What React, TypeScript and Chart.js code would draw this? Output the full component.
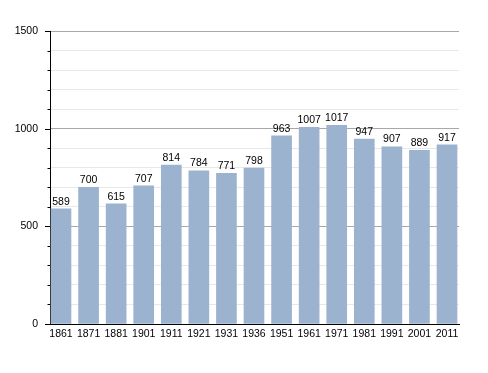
import React, { useEffect, useRef } from "react";
import { Chart, registerables } from "chart.js";

Chart.register(...registerables);

const years = ["1861", "1871", "1881", "1901", "1911", "1921", "1931", "1936", "1951", "1961", "1971", "1981", "1991", "2001", "2011"];
const population = [589, 700, 615, 707, 814, 784, 771, 798, 963, 1007, 1017, 947, 907, 889, 917];
const yMin = 0;
const yMax = 1500;
const yStep = 100;
const yLabelStep = 500;

const FONT = "'Liberation Sans', Arial, sans-serif";

const valueLabels = {
  id: "valueLabels",
  afterDatasetsDraw(chart: any) {
    const ctx = chart.ctx;
    const meta = chart.getDatasetMeta(0);
    ctx.save();
    ctx.font = `10.5px ${FONT}`;
    ctx.fillStyle = "#000";
    ctx.textAlign = "center";
    ctx.textBaseline = "bottom";
    meta.data.forEach((bar: any, i: number) => {
      ctx.fillText(String(population[i]), bar.x, bar.y - 2);
    });
    ctx.restore();
  },
};

const axisTicks = {
  id: "axisTicks",
  afterDraw(chart: any) {
    const ctx = chart.ctx;
    const y = chart.scales.y;
    const left = chart.chartArea.left;
    ctx.save();
    ctx.strokeStyle = "#000";
    ctx.lineWidth = 1;
    for (let v = yMin; v <= yMax; v += yStep) {
      const py = Math.round(y.getPixelForValue(v)) + 0.5;
      const len = v % yLabelStep === 0 ? 5 : 2.5;
      ctx.beginPath();
      ctx.moveTo(left - len, py);
      ctx.lineTo(left, py);
      ctx.stroke();
    }
    ctx.restore();
  },
};

export default function App() {
  const ref = useRef<HTMLCanvasElement | null>(null);
  useEffect(() => {
    if (!ref.current) return;
    const xs = population.map((_, i) => i);
    const chart = new Chart(ref.current, {
      type: "bar",
      data: {
        datasets: [
          {
            data: population.map((v, i) => ({ x: xs[i], y: v })),
            backgroundColor: "#9bb3ce",
            borderWidth: 0,
            barThickness: 20,
          },
        ],
      },
      options: {
        animation: false,
        responsive: false,
        devicePixelRatio: 1,
        layout: { padding: { left: 0, right: 29, top: 31, bottom: 0 } },
        plugins: { legend: { display: false }, tooltip: { enabled: false } },
        scales: {
          x: {
            type: "linear",
            min: -0.399,
            max: 14.435,
            offset: false,
            afterBuildTicks: (scale: any) => {
              scale.ticks = xs.map((v) => ({ value: v }));
            },
            afterFit: (scale: any) => {
              scale.height = 49;
            },
            ticks: {
              autoSkip: false,
              maxRotation: 0,
              padding: 4,
              color: "#000",
              font: { family: FONT, size: 10.5 },
              callback: (v: any) => years[Number(v)] ?? "",
            },
            grid: { display: false, drawTicks: false },
            border: { display: true, color: "#000", width: 1 },
          },
          y: {
            min: yMin,
            max: yMax,
            afterFit: (scale: any) => {
              scale.width = 50;
            },
            ticks: {
              stepSize: yStep,
              padding: 12,
              color: "#000",
              font: { family: FONT, size: 10.5 },
              callback: (v: any) => (Number(v) % yLabelStep === 0 ? String(v) : ""),
            },
            grid: {
              drawTicks: false,
              color: (c: any) => (c.tick && c.tick.value % yLabelStep === 0 ? "#a8a8a8" : "#e8e8e8"),
              lineWidth: 1,
            },
            border: { display: true, color: "#000", width: 1 },
          },
        },
      },
      plugins: [valueLabels, axisTicks],
    } as any);
    return () => chart.destroy();
  }, []);
  return (
    <div style={{ position: "absolute", left: 0, top: 0, width: 488, height: 373, background: "#fff" }}>
      <canvas ref={ref} width={488} height={373} style={{ display: "block", width: 488, height: 373 }} />
    </div>
  );
}
